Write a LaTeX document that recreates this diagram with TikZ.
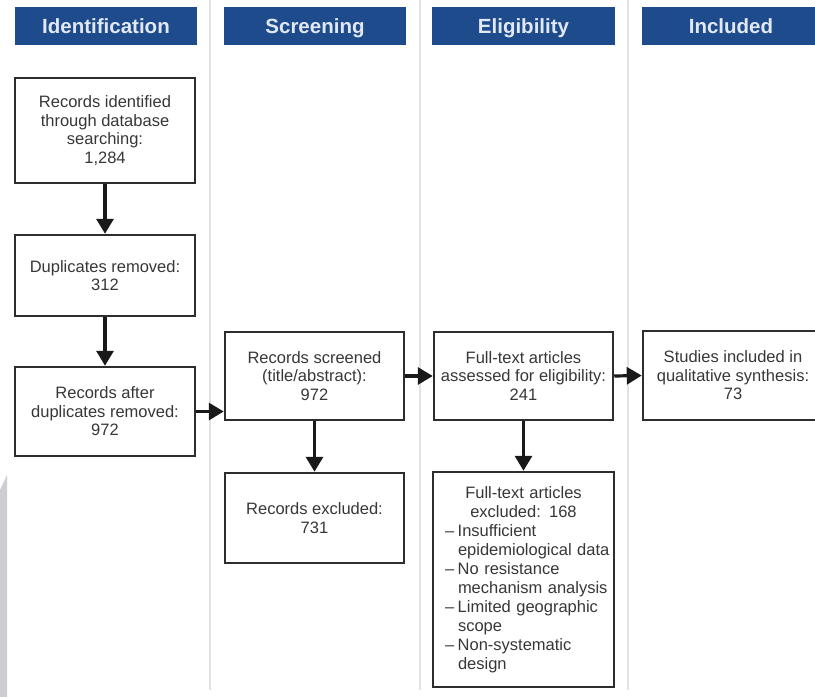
\documentclass[tikz,border=0pt]{standalone}
\usepackage{fontspec}
\setmainfont{Liberation Sans}
\usetikzlibrary{arrows.meta}
\definecolor{hdrblue}{RGB}{30,75,140}
\definecolor{hdrtext}{RGB}{225,232,242}
\definecolor{boxline}{RGB}{45,45,45}
\definecolor{boxtext}{RGB}{55,55,55}
\definecolor{sepgray}{RGB}{226,226,228}
\definecolor{stripgray}{RGB}{205,205,212}
\newcommand\fsz[2]{\fontsize{#1}{#2}\selectfont}
\newcommand\exitem[2]{\hangindent=13pt\hangafter=1 –\hspace{3.5pt}#1\newline #2\par}
\tikzset{
  hdr/.style={fill=hdrblue, draw=none, minimum height=38pt, inner sep=0pt,
    text height=17pt, text depth=3pt,
    text=hdrtext, font=\fsz{20.5}{23}\bfseries},
  flowbox/.style={draw=boxline, line width=2.5pt, fill=white, inner sep=2pt,
    align=center, text=boxtext, font=\fsz{16.5}{18.5}},
  flowarrow/.style={draw=black!90, line width=3.2pt,
    -{Triangle[width=17pt,length=15pt]}},
  sepline/.style={draw=sepgray, line width=2pt}
}
\begin{document}
\begin{tikzpicture}[x=1pt,y=-1pt]
\useasboundingbox (0,0) rectangle (815,697);
\fill[white] (0,0) rectangle (815,697);
% left strip
\fill[stripgray] (0,490) -- (7,475) -- (7,697) -- (0,697) -- cycle;
% separators
\draw[sepline] (210,0) -- (210,690);
\draw[sepline] (420,0) -- (420,690);
\draw[sepline] (628,0) -- (628,690);
% headers
\node[hdr, minimum width=182pt] (h1) at (106,26) {Identification};
\node[hdr, minimum width=182pt] (h2) at (315,26) {Screening};
\node[hdr, minimum width=183pt] (h3) at (523.5,26) {Eligibility};
\node[hdr, minimum width=178pt] (h4) at (731,26) {Included};
% boxes
\node[flowbox, minimum width=180pt, minimum height=105pt] (b1) at (105,130.5)
  {Records identified\\through database\\searching:\\1,284};
\node[flowbox, minimum width=180pt, minimum height=81pt] (b2) at (105,275.5)
  {Duplicates removed:\\312};
\node[flowbox, minimum width=180pt, minimum height=89pt] (b3) at (105,411.5)
  {Records after\\duplicates removed:\\972};
\node[flowbox, minimum width=179pt, minimum height=88pt] (s1) at (314.5,376)
  {Records screened\\(title/abstract):\\972};
\node[flowbox, minimum width=179pt, minimum height=90pt] (s2) at (314.5,518)
  {Records excluded:\\731};
\node[flowbox, minimum width=179pt, minimum height=88pt] (e1) at (523.5,376)
  {Full-text articles\\assessed for eligibility:\\241};
\node[draw=boxline, line width=2.5pt, fill=white, text=boxtext,
  minimum width=181pt, minimum height=215pt, text width=173pt, inner sep=4pt,
  font=\fsz{16.5}{19}] (e2) at (523.5,579.5)
  {{\centering Full-text articles\\excluded: 168\par}
   \raggedright\leftskip=8pt
   \exitem{Insufficient}{epidemiological data}
   \exitem{No resistance}{mechanism analysis}
   \exitem{Limited geographic}{scope}
   \exitem{Non-systematic}{design}};
\node[flowbox, minimum width=180pt, minimum height=89pt] (i1) at (733,375.5)
  {Studies included in\\qualitative synthesis:\\73};
% arrows
\draw[flowarrow] (b1.south) -- (b2.north);
\draw[flowarrow] (b2.south) -- (b3.north);
\draw[flowarrow] (b3.east) -- (b3.east -| s1.west);
\draw[flowarrow] (s1.east) -- (e1.west);
\draw[flowarrow] (e1.east) -- (i1.west);
\draw[flowarrow] (s1.south) -- (s2.north);
\draw[flowarrow] (e1.south) -- (e2.north);
\end{tikzpicture}
\end{document}
